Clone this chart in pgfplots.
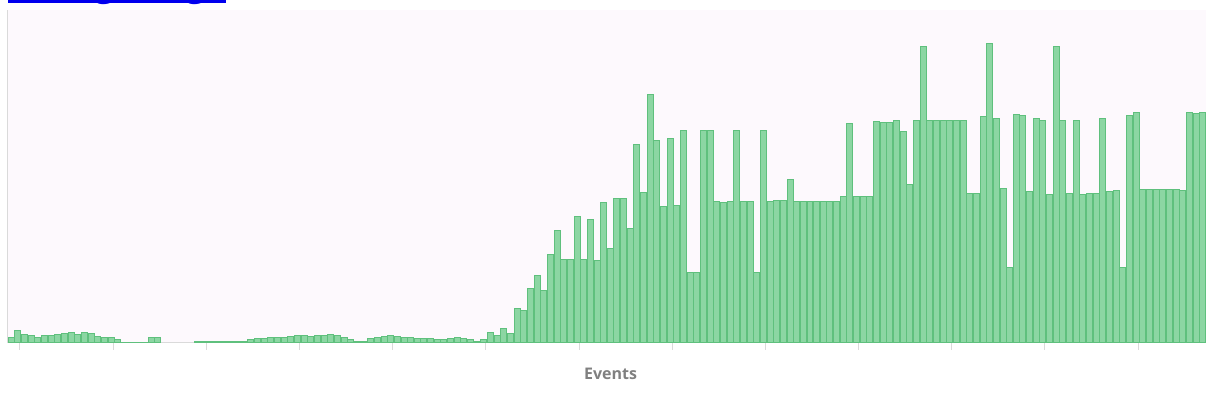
\documentclass[border=0pt]{standalone}
\usepackage{pgfplots}
\pgfplotsset{compat=1.18}
\usepackage{fontspec}
\setmainfont{Open Sans}
\definecolor{barfill}{RGB}{140,214,163}
\definecolor{baredge}{RGB}{95,192,125}
\definecolor{bgpink}{RGB}{253,249,253}
\definecolor{tickgray}{RGB}{218,218,218}
\definecolor{labgray}{RGB}{128,128,128}
\definecolor{linkblue}{RGB}{0,0,238}
\begin{document}
\begin{tikzpicture}[x=1pt,y=1pt]
\useasboundingbox (0,0) rectangle (603,203.5);
\node[anchor=base west, inner sep=0, text=linkblue, font=\fontsize{17}{20}\selectfont\bfseries] (t) at (4,205.2) {Billing Usage};
\draw[linkblue, line width=1.3pt] ([yshift=-2.5pt]t.base west) -- ([yshift=-2.5pt]t.base east);
\begin{axis}[
  at={(4pt,32pt)}, anchor=south west,
  scale only axis, width=599pt, height=166.5pt,
  xmin=-0.5, xmax=179.5, ymin=0, ymax=333,
  axis background/.style={fill=bgpink},
  axis x line=bottom, axis y line=left,
  axis line style={-, draw=tickgray, line width=0.5pt},
  ytick=\empty,
  xtick={1.3,15.3,...,169.3},
  xticklabels={},
  tick align=outside,
  major tick length=3.5pt,
  tick style={draw=tickgray, line width=0.5pt},
  xlabel={Events},
  xlabel style={at={(axis description cs:0.503,-0.093)}, anchor=center, font=\fontsize{8}{10}\selectfont\bfseries, text=labgray},
]
\addplot[ybar, bar width=0.9, fill=barfill, draw=baredge, line width=0.5pt] coordinates {
(0,5)(1,12)(2,8)(3,7)(4,5)(5,7)(6,7)(7,8)(8,9)(9,10)(10,8)(11,10)(12,9)(13,6)(14,5)(15,5)(16,3)(17,0.5)(18,0.5)(19,0.5)(20,0.5)(21,5)(22,5)
(28,1)(29,1)(30,1)(31,1)(32,1)(33,1)(34,1)(35,1)(36,3)(37,4)(38,4)(39,5)(40,5)(41,5)(42,6)(43,7)(44,7)(45,6)(46,7)(47,7)(48,8)(49,7)(50,5)(51,3)(52,1)(53,1)(54,4)(55,5)(56,6)(57,7)(58,6)(59,5)(60,5)(61,4)(62,4)(63,4)(64,3)(65,3)(66,4)(67,5)(68,4)(69,3)(70,1)
(71,3)(72,10)(73,7)(74,14)(75,9)(76,34)(77,32)(78,54)(79,67)(80,52)(81,88)(82,112)(83,83)(84,83)(85,126)(86,83)(87,123)(88,82)(89,140)(90,94)(91,144)(92,144)(93,114)(94,198)(95,150)(96,248)(97,202)(98,136)(99,204)(100,137)(101,212)(102,70)(103,70)(104,212)(105,212)(106,141)(107,140)(108,141)(109,212)(110,141)(111,141)(112,70)(113,212)(114,141)(115,142)(116,142)(117,163)(118,141)(119,141)(120,141)(121,141)(122,141)(123,141)(124,141)(125,146)(126,219)(127,146)(128,146)(129,146)(130,221)(131,220)(132,220)(133,222)(134,211)(135,158)(136,222)(137,296)(138,222)(139,222)(140,222)(141,222)(142,222)(143,222)(144,149)(145,149)(146,226)(147,299)(148,224)(149,154)(150,75)(151,228)(152,227)(153,151)(154,224)(155,222)(156,148)(157,296)(158,222)(159,149)(160,222)(161,148)(162,149)(163,149)(164,224)(165,151)(166,152)(167,75)(168,227)(169,230)(170,153)(171,153)(172,153)(173,153)(174,153)(175,153)(176,152)(177,230)(178,229)(179,230)
};
\end{axis}
\end{tikzpicture}
\end{document}
